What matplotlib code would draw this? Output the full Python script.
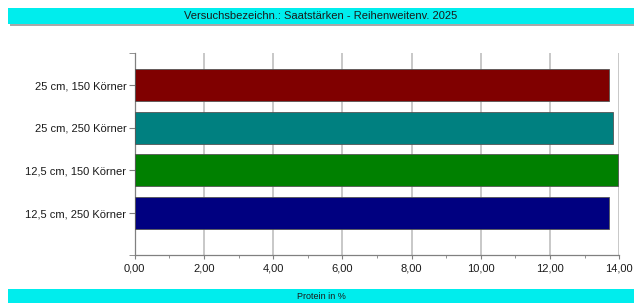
import matplotlib
matplotlib.use("Agg")
import matplotlib.pyplot as plt
from matplotlib.patches import Rectangle
from matplotlib.ticker import FuncFormatter, MultipleLocator, FixedLocator

plt.rcParams['font.family'] = ['Liberation Sans', 'DejaVu Sans']

title = "Versuchsbezeichn.: Saatstärken - Reihenweitenv. 2025"
xlabel = "Protein in %"
categories = ["12,5 cm, 250 Körner", "12,5 cm, 150 Körner", "25 cm, 250 Körner", "25 cm, 150 Körner"]
values = [13.70, 13.95, 13.82, 13.70]
colors = ["#000080", "#008000", "#008080", "#800000"]

W, H = 634, 303
fig = plt.figure(figsize=(W / 100, H / 100), dpi=100)

def fx(px):
    return px / W

def fy(py):
    return 1 - py / H

cyan = "#00EDED"
# title banner with shadow
fig.patches.append(Rectangle((fx(10), fy(26)), fx(634 - 10), 18 / H, transform=fig.transFigure,
                             facecolor="#a8a8a8", edgecolor="none", zorder=0))
fig.patches.append(Rectangle((fx(8), fy(24)), fx(634 - 8), 16 / H, transform=fig.transFigure,
                             facecolor=cyan, edgecolor="none", zorder=1))
fig.text(fx(321), fy(16), title, ha="center", va="center", fontsize=8, color="#1a1a1a")

# bottom banner
fig.patches.append(Rectangle((fx(8), 0), fx(634 - 8), 14 / H, transform=fig.transFigure,
                             facecolor=cyan, edgecolor="none", zorder=1))
fig.text(fx(321), fy(296.5), xlabel, ha="center", va="center", fontsize=6.5, color="#1a1a1a")

ax = fig.add_axes([fx(134.7), fy(255), fx(619.3 - 134.7), (255 - 53) / H])
y = list(range(len(categories)))
ax.barh(y, values, height=0.75, color=colors, edgecolor="#555555", linewidth=0.6, zorder=3)
ax.set_yticks(y)
ax.set_yticklabels(categories)
ax.set_xlim(0, 14)
ax.set_ylim(-0.98, 3.75)
ax.yaxis.set_minor_locator(FixedLocator([-0.98, 3.75]))
ax.xaxis.set_major_locator(MultipleLocator(2))
ax.xaxis.set_minor_locator(MultipleLocator(1))
ax.xaxis.set_major_formatter(FuncFormatter(lambda v, p: f"{v:.2f}".replace(".", ",")))
ax.grid(axis="x", which="major", color="#c4c4c4", linewidth=1.3, zorder=0)
for s in ["top", "right"]:
    ax.spines[s].set_visible(False)
for s in ["left", "bottom"]:
    ax.spines[s].set_color("#808080")
    ax.spines[s].set_linewidth(0.9)
ax.tick_params(axis="y", length=4, color="#808080", labelsize=8, labelcolor="#1a1a1a", pad=2)
ax.tick_params(axis="y", which="minor", length=4, color="#808080")
ax.tick_params(axis="x", which="major", length=3, color="#808080", labelsize=8, labelcolor="#1a1a1a", pad=3)
ax.tick_params(axis="x", which="minor", length=2, color="#808080")
ax.set_axisbelow(True)

fig.savefig("out.png", dpi=100)
